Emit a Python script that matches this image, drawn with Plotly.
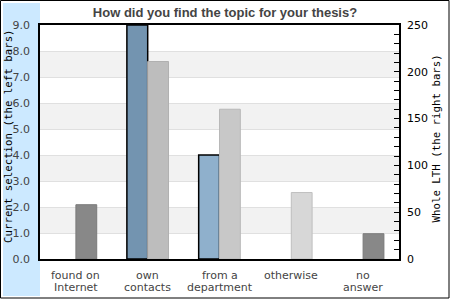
import plotly.graph_objects as go

categories = ["found on\nInternet", "own\ncontacts", "from a\ndepartment", "otherwise", "no\nanswer"]
current_selection = [0, 9, 4, 0, 0]
whole_lth = [58, 211, 160, 71, 27]
left_ticks = [0, 1, 2, 3, 4, 5, 6, 7, 8, 9]
right_ticks = [0, 50, 100, 150, 200, 250]

left_colors = ["#7394b0", "#7394b0", "#8fb0cc", "#8fb0cc", "#8fb0cc"]
right_colors = ["#888888", "#bdbdbd", "#c8c8c8", "#d7d7d7", "#888888"]
right_borders = ["#7a7a7a", "#b0b0b0", "#b8b8b8", "#bfbfbf", "#7a7a7a"]

W, H = 450, 300
L, R, T, B = 40, 51, 25, 41
PW, PH = W - L - R, H - T - B

def px_x(x):
    return (x - L) / PW

def px_y(y):
    return (H - B - y) / PH

xs = list(range(len(categories)))
left_line_w = [1.5 if v > 0 else 0 for v in current_selection]
right_line_w = [1 if v > 0 else 0 for v in whole_lth]

fig = go.Figure()
fig.add_trace(go.Bar(
    x=xs, y=current_selection, yaxis="y",
    width=0.29, offset=-0.29,
    marker=dict(color=left_colors, line=dict(color="#000000", width=left_line_w)),
    hoverinfo="skip", showlegend=False,
))
fig.add_trace(go.Bar(
    x=xs, y=whole_lth, yaxis="y2",
    width=0.29, offset=0.0,
    marker=dict(color=right_colors, line=dict(color=right_borders, width=right_line_w)),
    hoverinfo="skip", showlegend=False,
))

shapes = []
shapes.append(dict(type="rect", xref="paper", yref="paper",
                   x0=px_x(3), x1=px_x(40), y0=px_y(296), y1=px_y(3),
                   fillcolor="#cce9ff", line=dict(width=0), layer="below"))
for lo in left_ticks[1:-1:2]:
    shapes.append(dict(type="rect", xref="paper", yref="y", x0=0, x1=1,
                       y0=lo, y1=lo + 1, fillcolor="#f2f2f2",
                       line=dict(width=0), layer="below"))
shapes.append(dict(type="rect", xref="paper", yref="paper",
                   x0=px_x(0.5), x1=px_x(449), y0=px_y(298), y1=px_y(0.5),
                   line=dict(color="#000000", width=1), fillcolor="rgba(0,0,0,0)"))

annotations = []
for i, cat in enumerate(categories):
    for j, line in enumerate(cat.split("\n")):
        annotations.append(dict(
            x=i, xref="x", y=px_y(275.5 + 11.7 * j), yref="paper",
            text=line, showarrow=False, xanchor="center", yanchor="middle",
            font=dict(family="DejaVu Sans", size=11, color="#444444"),
        ))
annotations.append(dict(
    x=px_x(8), xref="paper", y=px_y(136), yref="paper",
    text="Current selection (the left bars)", textangle=-90, showarrow=False,
    xanchor="center", yanchor="middle",
    font=dict(family="DejaVu Sans Mono", size=10.75, color="#000000"),
))
annotations.append(dict(
    x=px_x(436), xref="paper", y=px_y(138.5), yref="paper",
    text="Whole LTH (the right bars)", textangle=-90, showarrow=False,
    xanchor="center", yanchor="middle",
    font=dict(family="DejaVu Sans Mono", size=10.75, color="#000000"),
))

fig.update_layout(
    width=W, height=H,
    margin=dict(l=L, r=R, t=T, b=B, pad=0),
    paper_bgcolor="#ffffff", plot_bgcolor="#ffffff",
    barmode="overlay",
    title=dict(text="<b>How did you find the topic for your thesis?</b>",
               x=0.5, xref="container", xanchor="center",
               y=1 - 12.5 / H, yref="container", yanchor="middle",
               font=dict(family="Liberation Sans", size=13, color="#444444")),
    xaxis=dict(range=[-0.5, len(categories) - 0.5], showticklabels=False,
               ticks="", showgrid=False, zeroline=False,
               showline=True, linecolor="#000000", linewidth=1.5, mirror=True),
    yaxis=dict(range=[0, 9], tickvals=left_ticks, tickformat=".1f",
               ticks="", showgrid=True, gridcolor="#e0e0e0", gridwidth=1,
               zeroline=False, showline=True, linecolor="#000000", linewidth=1.5,
               tickfont=dict(family="DejaVu Sans", size=11, color="#444444"),
               ticklabelstandoff=6),
    yaxis2=dict(range=[0, 250], tickvals=right_ticks, overlaying="y", side="right",
                ticks="inside", ticklen=5, tickcolor="#000000", tickwidth=1,
                minor=dict(dtick=10, ticks="inside", ticklen=5, tickcolor="#000000", tickwidth=1),
                showgrid=False, zeroline=False,
                showline=True, linecolor="#000000", linewidth=1.5,
                tickfont=dict(family="DejaVu Sans", size=11, color="#000000"),
                ticklabelstandoff=4),
    shapes=shapes,
    annotations=annotations,
)

fig.write_html("out.html")
